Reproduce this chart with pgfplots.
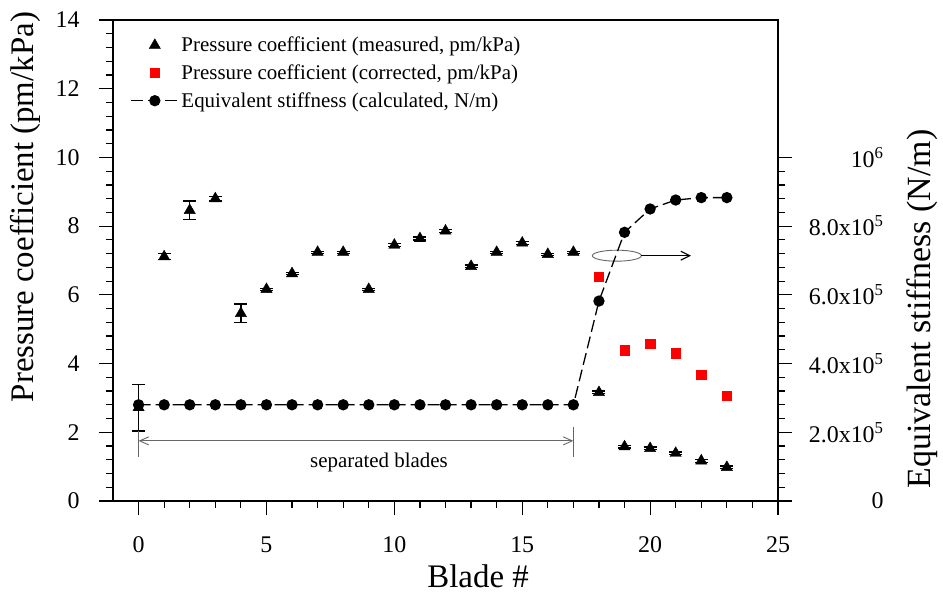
\documentclass[border=0pt]{standalone}
\usepackage{fontspec}
\setmainfont{Liberation Serif}
\usepackage{pgfplots}
\usepackage{pgfplotstable}
\pgfplotsset{compat=1.18}
\usetikzlibrary{arrows.meta}

\pgfplotstableread{
x y e
0 2.72 0.68
1 7.11 0.09
2 8.46 0.27
3 8.80 0.07
4 5.46 0.27
5 6.16 0.03
6 6.62 0.03
7 7.24 0.03
8 7.24 0.03
9 6.16 0.03
10 7.45 0.04
11 7.64 0.04
12 7.86 0.04
13 6.83 0.04
14 7.24 0.03
15 7.51 0.04
16 7.18 0.03
17 7.24 0.03
18 3.16 0.04
19 1.58 0.04
20 1.53 0.04
21 1.39 0.04
22 1.17 0.04
23 0.98 0.04
}\measured

\pgfplotstableread{
x y
18 6.53
19 4.39
20 4.57
21 4.30
22 3.67
23 3.06
}\corrected

\pgfplotstableread{
x y
0 280000
1 280000
2 280000
3 280000
4 280000
5 280000
6 280000
7 280000
8 280000
9 280000
10 280000
11 280000
12 280000
13 280000
14 280000
15 280000
16 280000
17 280000
18 582000
19 782000
20 850000
21 876000
22 883000
23 883000
}\stiffness

\tikzset{stiffstyle/.style={black, line width=1.3bp, dash pattern=on 12bp off 5bp, mark=*, mark size=5bp, mark options={solid}}}
\newcommand{\rl}[1]{\makebox[80bp][r]{#1}}

\begin{document}
\begin{tikzpicture}
\begin{axis}[name=ax, scale only axis, width=665bp, height=481bp,
  xmin=-1, xmax=25, ymin=0, ymax=14,
  xtick={0,5,...,25}, ytick={0,2,...,14},
  minor x tick num=4, minor y tick num=4,
  tick align=outside, xtick pos=bottom, ytick pos=left,
  major tick length=14bp, minor tick length=7bp,
  tick style={black, line width=1.2bp},
  axis line style={line width=1.3bp},
  ticklabel style={font=\fontsize{24}{24}\selectfont},
  xticklabel style={yshift=-18bp},
  yticklabel style={xshift=-16bp},
  /pgf/number format/assume math mode=true,
  xlabel={Blade \#}, ylabel={Pressure coefficient (pm/kPa)},
  label style={font=\fontsize{33}{33}\selectfont},
  xlabel style={at={(axis description cs:0.549,-0.157)}, anchor=center},
  ylabel style={at={(axis description cs:-0.132,0.611)}, anchor=center},
  legend style={draw=none, fill=none, at={(0,1)}, anchor=north west,
    xshift=14bp, yshift=-13bp, font=\fontsize{21}{21}\selectfont,
    row sep=7.5bp, /tikz/every even column/.append style={column sep=23bp}},
  legend cell align=left,
  legend image code/.code={\draw[mark repeat=2, mark phase=2, #1] plot coordinates {(0bp,0bp) (24bp,0bp) (48bp,0bp)};},
]
\addplot[black, only marks, mark=triangle*, mark size=6.5bp,
  error bars/.cd, y dir=both, y explicit,
  error mark options={rotate=90, mark size=6.5bp, line width=1.3bp},
  error bar style={line width=1.3bp}]
  table[x=x, y=y, y error=e] {\measured};
\addlegendentry{Pressure coefficient (measured, pm/kPa)}
\addplot[red, only marks, mark=square*, mark size=4.6bp] table[x=x, y=y] {\corrected};
\addlegendentry{Pressure coefficient (corrected, pm/kPa)}
\addlegendimage{stiffstyle}
\addlegendentry{Equivalent stiffness (calculated, N/m)}

\draw[black!60, line width=0.9bp] (axis cs:0,2.04) -- (axis cs:0,1.29);
\draw[black!60, line width=0.9bp] (axis cs:17,2.15) -- (axis cs:17,1.29);
\draw[black!60, line width=0.9bp, {Straight Barb[length=9bp,width=8bp]}-{Straight Barb[length=9bp,width=8bp]}] (axis cs:0,1.75) -- (axis cs:17,1.75);
\node[font=\fontsize{21}{21}\selectfont] at (axis cs:9.4,1.13) {separated blades};
\draw[black!60, line width=0.9bp] (axis cs:18.7,7.14) ellipse [x radius=24.5bp, y radius=5.5bp];
\draw[black, line width=1.1bp, -{Straight Barb[length=9bp,width=9bp]}] (axis cs:19.66,7.14) -- (axis cs:21.6,7.14);
\end{axis}

\begin{axis}[scale only axis, width=665bp, height=481bp,
  xmin=-1, xmax=25, ymin=0, ymax=1400000,
  axis x line=none, axis y line*=right,
  ytick={0,200000,400000,600000,800000,1000000},
  minor ytick={40000,80000,120000,160000,240000,280000,320000,360000,440000,480000,520000,560000,640000,680000,720000,760000,840000,880000,920000,960000},
  yticklabels={\rl{0}, \rl{2.0x10\textsuperscript{5}}, \rl{4.0x10\textsuperscript{5}}, \rl{6.0x10\textsuperscript{5}}, \rl{8.0x10\textsuperscript{5}}, \rl{10\textsuperscript{6}}},
  scaled y ticks=false,
  tick align=outside,
  major tick length=14bp, minor tick length=7bp,
  tick style={black, line width=1.2bp},
  axis line style={line width=1.3bp},
  yticklabel style={font=\fontsize{24}{24}\selectfont, anchor=west, xshift=8bp},
  ylabel={Equivalent stiffness (N/m)},
  ylabel style={font=\fontsize{34}{34}\selectfont, at={(axis description cs:1.217,0.399)}, anchor=center},
]
\addplot[stiffstyle] table[x=x, y=y] {\stiffness};
\end{axis}

\pgfresetboundingbox
\useasboundingbox ([shift={(-113bp,-97bp)}]ax.south west) rectangle ([shift={(165bp,20bp)}]ax.north east);
\end{tikzpicture}
\end{document}
